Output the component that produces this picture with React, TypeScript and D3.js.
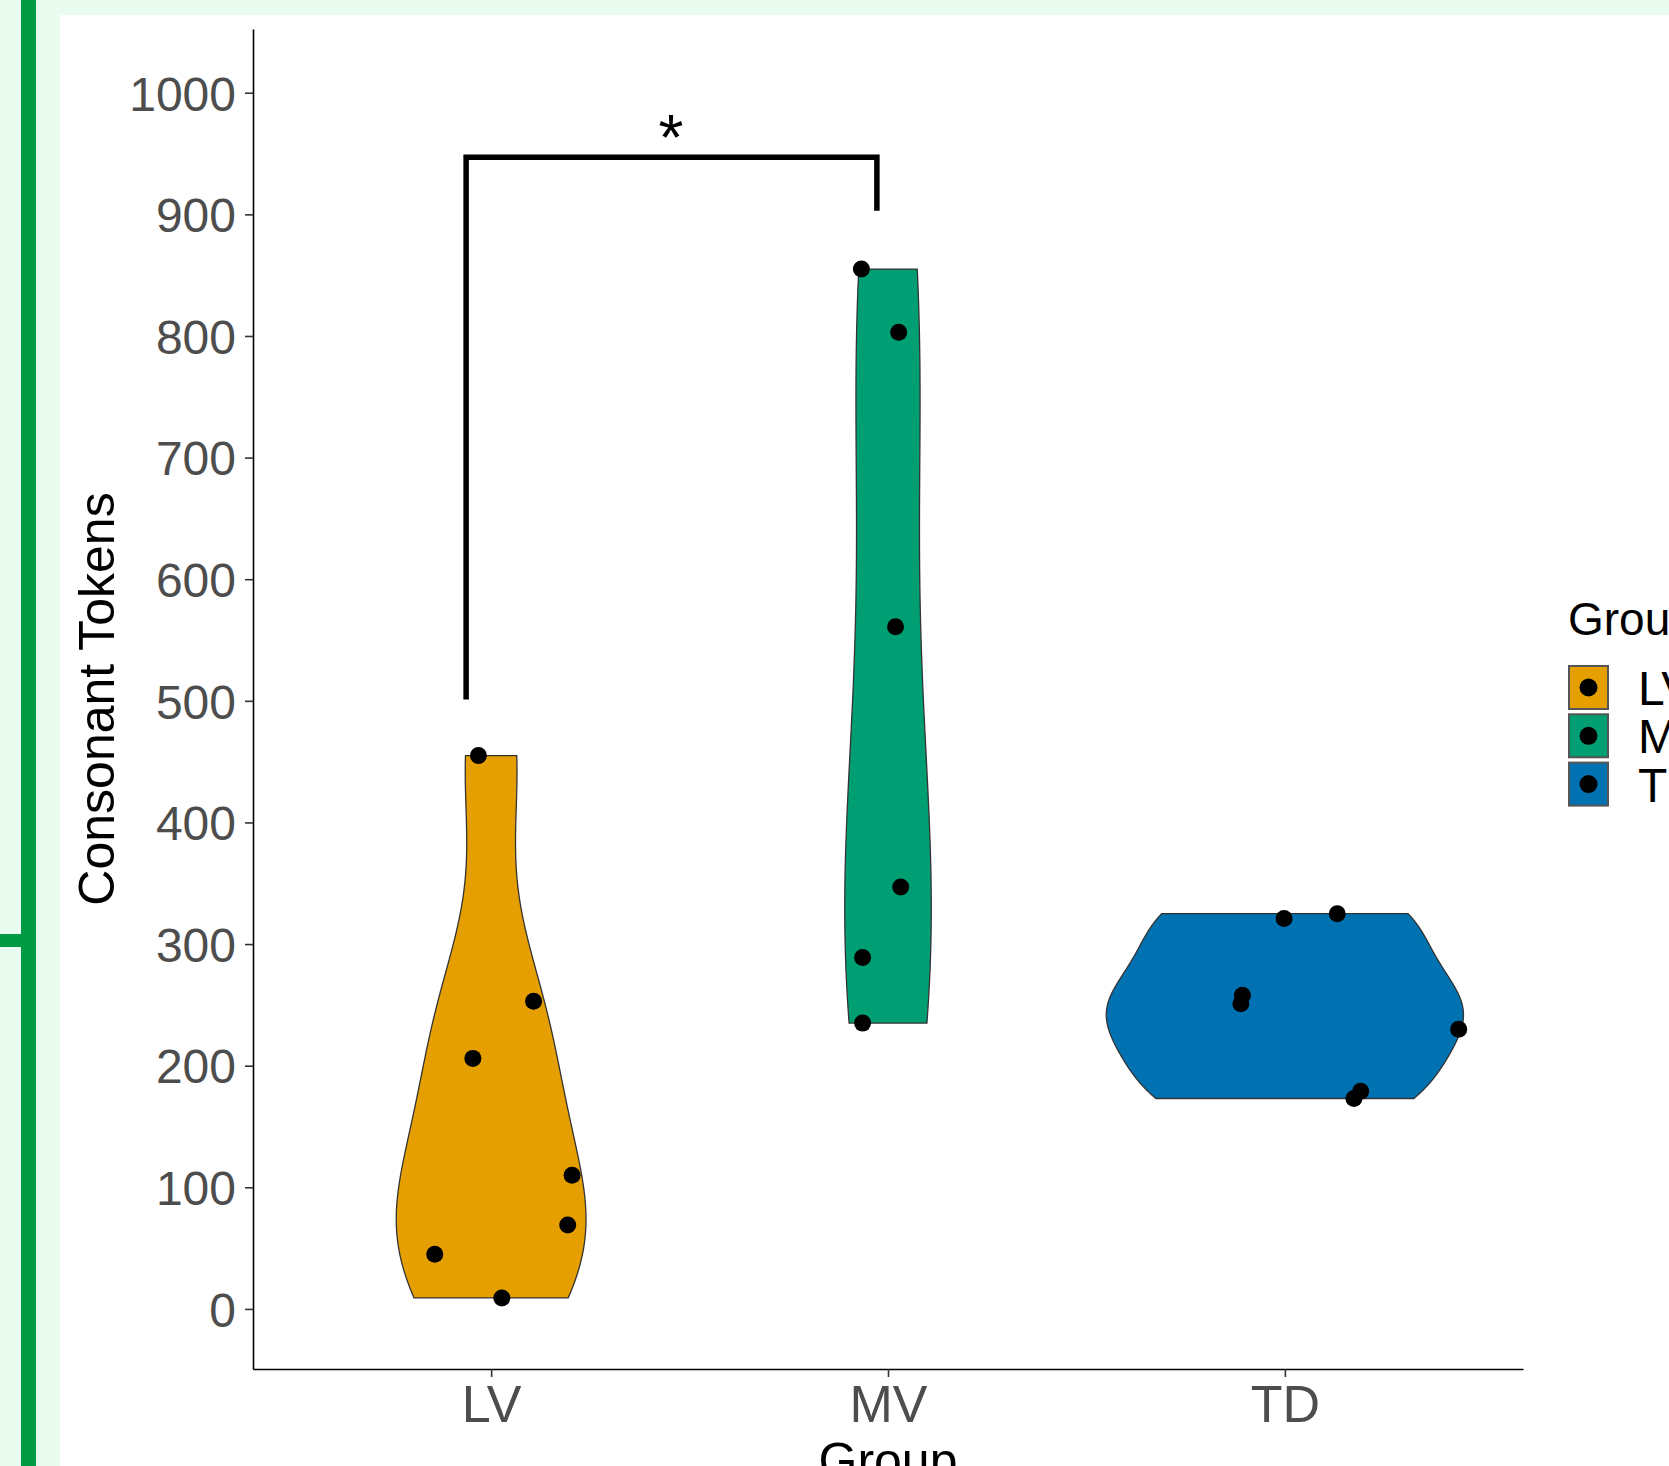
import React, { useEffect, useRef } from "react";
import * as d3 from "d3";

const groups = ["LV", "MV", "TD"];
const groupColors = ["#E69F00", "#009E73", "#0072B2"];

// consonant tokens per child
const lvTokens = [455, 253, 206, 110, 69, 45, 9];
const mvTokens = [855, 803, 561, 347, 289, 235];
const tdTokens = [321, 325, 258, 251, 230, 179, 173];

// horizontal jitter of each dot (fraction of one category step)
const lvJitter = [-0.032, 0.107, -0.046, 0.204, 0.193, -0.142, 0.027];
const mvJitter = [-0.067, 0.027, 0.019, 0.032, -0.064, -0.064];
const tdJitter = [-0.002, 0.132, -0.107, -0.111, 0.438, 0.191, 0.174];

const yTicks = [0, 100, 200, 300, 400, 500, 600, 700, 800, 900, 1000];

// significance bracket LV vs MV (x in ggplot 1-based group positions)
const bracketX = [0.937, 1.972];
const bracketY = 947;
const bracketTips = [501, 903];
const starLabel = "*";
const starX = 1.453;
const starY = 945;

const W = 1669;
const H = 1466;
const FONT = "'Liberation Sans', Arial, sans-serif";

// gaussian kernel density with R's bw.nrd0, trimmed to the data range
function ydensity(values: number[]) {
	const n = values.length;
	const sorted = values.slice().sort(d3.ascending);
	const sd = d3.deviation(values) as number;
	const iqr =
		(d3.quantileSorted(sorted, 0.75) as number) -
		(d3.quantileSorted(sorted, 0.25) as number);
	const bw = 0.9 * Math.min(sd, iqr / 1.34) * Math.pow(n, -0.2);
	const lo = sorted[0];
	const hi = sorted[n - 1];
	return d3.range(512).map(i => {
		const v = lo + ((hi - lo) * i) / 511;
		const d =
			d3.sum(values, x => Math.exp(-0.5 * ((v - x) / bw) ** 2)) /
			(n * bw * Math.sqrt(2 * Math.PI));
		return { v, d };
	});
}

function ViolinChart() {
	const ref = useRef<SVGSVGElement>(null);

	useEffect(() => {
		const svg = d3.select(ref.current);
		svg.selectAll("*").remove();

		const margins = { top: 29, right: 146, bottom: 97, left: 253 };

		// page decoration around the plot
		svg.append("rect").attr("width", W).attr("height", H).attr("fill", "#E9FCEF");
		svg.append("rect").attr("x", 60).attr("y", 15).attr("width", W - 60).attr("height", H - 15).attr("fill", "#FFFFFF");
		svg.append("rect").attr("x", 21).attr("y", 0).attr("width", 15).attr("height", H).attr("fill", "#009944");
		svg.append("rect").attr("x", 0).attr("y", 934).attr("width", 22).attr("height", 13).attr("fill", "#009944");

		const x = d3
			.scalePoint<string>()
			.domain(groups)
			.range([margins.left, W - margins.right])
			.padding(0.6);
		const step = x.step();
		const xPos = (p: number) => (x(groups[0]) as number) + (p - 1) * step;

		const y = d3
			.scaleLinear()
			.domain([-49.4, 1052.4])
			.range([H - margins.bottom, margins.top]);

		const tokens = [lvTokens, mvTokens, tdTokens];
		const jitters = [lvJitter, mvJitter, tdJitter];
		const densities = tokens.map(ydensity);
		const maxD = d3.max(densities, ds => d3.max(ds, p => p.d)) as number;

		// violins
		densities.forEach((ds, gi) => {
			const cx = x(groups[gi]) as number;
			const hw = (d: number) => (d / maxD) * 0.45 * step;
			const area = d3
				.area<{ v: number; d: number }>()
				.y(p => y(p.v))
				.x0(p => cx - hw(p.d))
				.x1(p => cx + hw(p.d));
			svg.append("path")
				.attr("d", area(ds))
				.attr("fill", groupColors[gi])
				.attr("stroke", "#333333")
				.attr("stroke-width", 1.3);
		});

		// jittered dots
		tokens.forEach((vals, gi) => {
			const cx = x(groups[gi]) as number;
			svg.append("g")
				.selectAll("circle")
				.data(vals)
				.join("circle")
				.attr("cx", (_, i) => cx + jitters[gi][i] * step)
				.attr("cy", d => y(d))
				.attr("r", 8.5)
				.attr("fill", "#000");
		});

		//Axes
		const yAxis = d3
			.axisLeft(y)
			.tickValues(yTicks)
			.tickFormat(d3.format("d"))
			.tickSize(8)
			.tickSizeOuter(0)
			.tickPadding(9);
		svg.append("g")
			.attr("transform", `translate(${margins.left},0)`)
			.call(yAxis)
			.call(g => g.select(".domain").attr("stroke", "#000").attr("stroke-width", 1.6))
			.call(g => g.selectAll(".tick line").attr("stroke", "#333").attr("stroke-width", 1.6))
			.call(g =>
				g.selectAll(".tick text")
					.attr("fill", "#4D4D4D")
					.attr("font-size", 48)
					.attr("font-family", FONT)
					.attr("dy", "0.36em")
			);

		const xAxis = d3.axisBottom(x).tickSize(8).tickSizeOuter(0).tickPadding(8);
		svg.append("g")
			.attr("transform", `translate(0,${H - margins.bottom})`)
			.call(xAxis)
			.call(g => g.select(".domain").attr("stroke", "#000").attr("stroke-width", 1.6))
			.call(g => g.selectAll(".tick line").attr("stroke", "#333").attr("stroke-width", 1.6))
			.call(g =>
				g.selectAll(".tick text")
					.attr("fill", "#4D4D4D")
					.attr("font-size", 52)
					.attr("font-family", FONT)
			);

		// axis titles
		svg.append("text")
			.attr("transform", `translate(114,699) rotate(-90)`)
			.attr("text-anchor", "middle")
			.attr("font-family", FONT)
			.attr("font-size", 50)
			.attr("fill", "#000")
			.text("Consonant Tokens");
		svg.append("text")
			.attr("x", x("MV") as number)
			.attr("y", 1478)
			.attr("text-anchor", "middle")
			.attr("font-family", FONT)
			.attr("font-size", 50)
			.attr("fill", "#000")
			.text("Group");

		// significance bracket
		const bracket = d3
			.line<[number, number]>()
			.x(p => xPos(p[0]))
			.y(p => y(p[1]));
		svg.append("path")
			.attr("d", bracket([
				[bracketX[0], bracketTips[0]],
				[bracketX[0], bracketY],
				[bracketX[1], bracketY],
				[bracketX[1], bracketTips[1]]
			]))
			.attr("fill", "none")
			.attr("stroke", "#000")
			.attr("stroke-width", 5.5);
		svg.append("text")
			.attr("x", xPos(starX))
			.attr("y", y(starY))
			.attr("text-anchor", "middle")
			.attr("font-family", FONT)
			.attr("font-size", 64)
			.attr("fill", "#000")
			.text(starLabel);

		// legend
		const lx = 1568;
		svg.append("text")
			.attr("x", lx)
			.attr("y", 635)
			.attr("font-family", FONT)
			.attr("font-size", 46)
			.attr("fill", "#000")
			.text("Group");
		const key = svg.append("g")
			.selectAll("g")
			.data(groups)
			.join("g")
			.attr("transform", (_, i) => `translate(${lx},${665 + i * 48.3})`);
		key.append("rect")
			.attr("x", 1)
			.attr("y", 1)
			.attr("width", 39)
			.attr("height", 43)
			.attr("fill", (_, i) => groupColors[i])
			.attr("stroke", "#555")
			.attr("stroke-width", 2);
		key.append("circle")
			.attr("cx", 20.5)
			.attr("cy", 22.5)
			.attr("r", 9)
			.attr("fill", "#000");
		key.append("text")
			.attr("x", 70)
			.attr("y", 40)
			.attr("font-family", FONT)
			.attr("font-size", 48)
			.attr("fill", "#000")
			.text(d => d);
	}, []);

	return (
		<svg
			ref={ref}
			width={W}
			height={H}
			style={{ position: "absolute", left: 0, top: 0, display: "block" }}
		/>
	);
}

export default function App() {
	return <ViolinChart />;
}
